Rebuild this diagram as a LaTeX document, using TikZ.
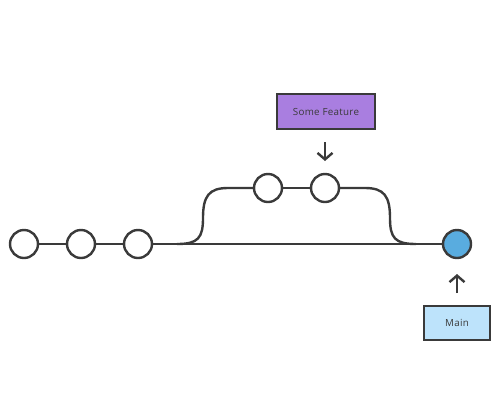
\documentclass[tikz,border=0pt]{standalone}
\usepackage{fontspec}
\setmainfont{Open Sans}[LetterSpace=3]
\usetikzlibrary{arrows.meta,backgrounds}
\definecolor{ink}{HTML}{3A3A3A}
\definecolor{featfill}{HTML}{A97EE0}
\definecolor{mainfill}{HTML}{BDE3FB}
\definecolor{headfill}{HTML}{59ACDF}
\tikzset{
  commit/.style={circle, draw=ink, line width=2.4pt, fill=white, minimum size=28pt, inner sep=0pt},
  headcommit/.style={commit, fill=headfill},
  branchlabel/.style={draw=ink, line width=2.2pt, font=\fontsize{9.8}{11}\selectfont, text=ink, inner sep=0pt},
  edge/.style={draw=ink, line width=2.4pt},
  pointer/.style={draw=ink, line width=2.4pt, -{Straight Barb[length=6.5pt,width=15pt,line width=2.4pt]}}
}
\begin{document}
\begin{tikzpicture}[x=1pt,y=-1pt]
\useasboundingbox (0,0) rectangle (500,400);
\node[commit] (c1) at (24,244) {};
\node[commit] (c2) at (81,244) {};
\node[commit] (c3) at (138,244) {};
\node[headcommit] (m) at (457,244) {};
\node[commit] (f1) at (268,188) {};
\node[commit] (f2) at (325,188) {};
\coordinate (bs) at (177,244);
\coordinate (be) at (416,244);
\begin{scope}[on background layer]
\path[edge] (c1) -- (c2);
\path[edge] (c2) -- (c3);
\path[edge] (c3) -- (m);
\path[edge] (f1) -- (f2);
\path[edge] (bs) .. controls (198,244) and (203,238) .. (203,218)
  .. controls (203,196) and (209,188) .. (228,188) -- (f1);
\path[edge] (be) .. controls (395,244) and (390,238) .. (390,218)
  .. controls (390,196) and (384,188) .. (365,188) -- (f2);
\end{scope}
\node[branchlabel, fill=featfill, minimum width=98pt, minimum height=35pt] (feat) at (326,111.5) {Some Feature};
\node[branchlabel, fill=mainfill, minimum width=66pt, minimum height=34pt] (main) at (457,323) {Main};
\coordinate (fa) at (325,142);
\coordinate (fb) at (325,161);
\coordinate (ma) at (457,293);
\coordinate (mb) at (457,274);
\path[pointer] (fa) -- (fb);
\path[pointer] (ma) -- (mb);
\end{tikzpicture}
\end{document}
